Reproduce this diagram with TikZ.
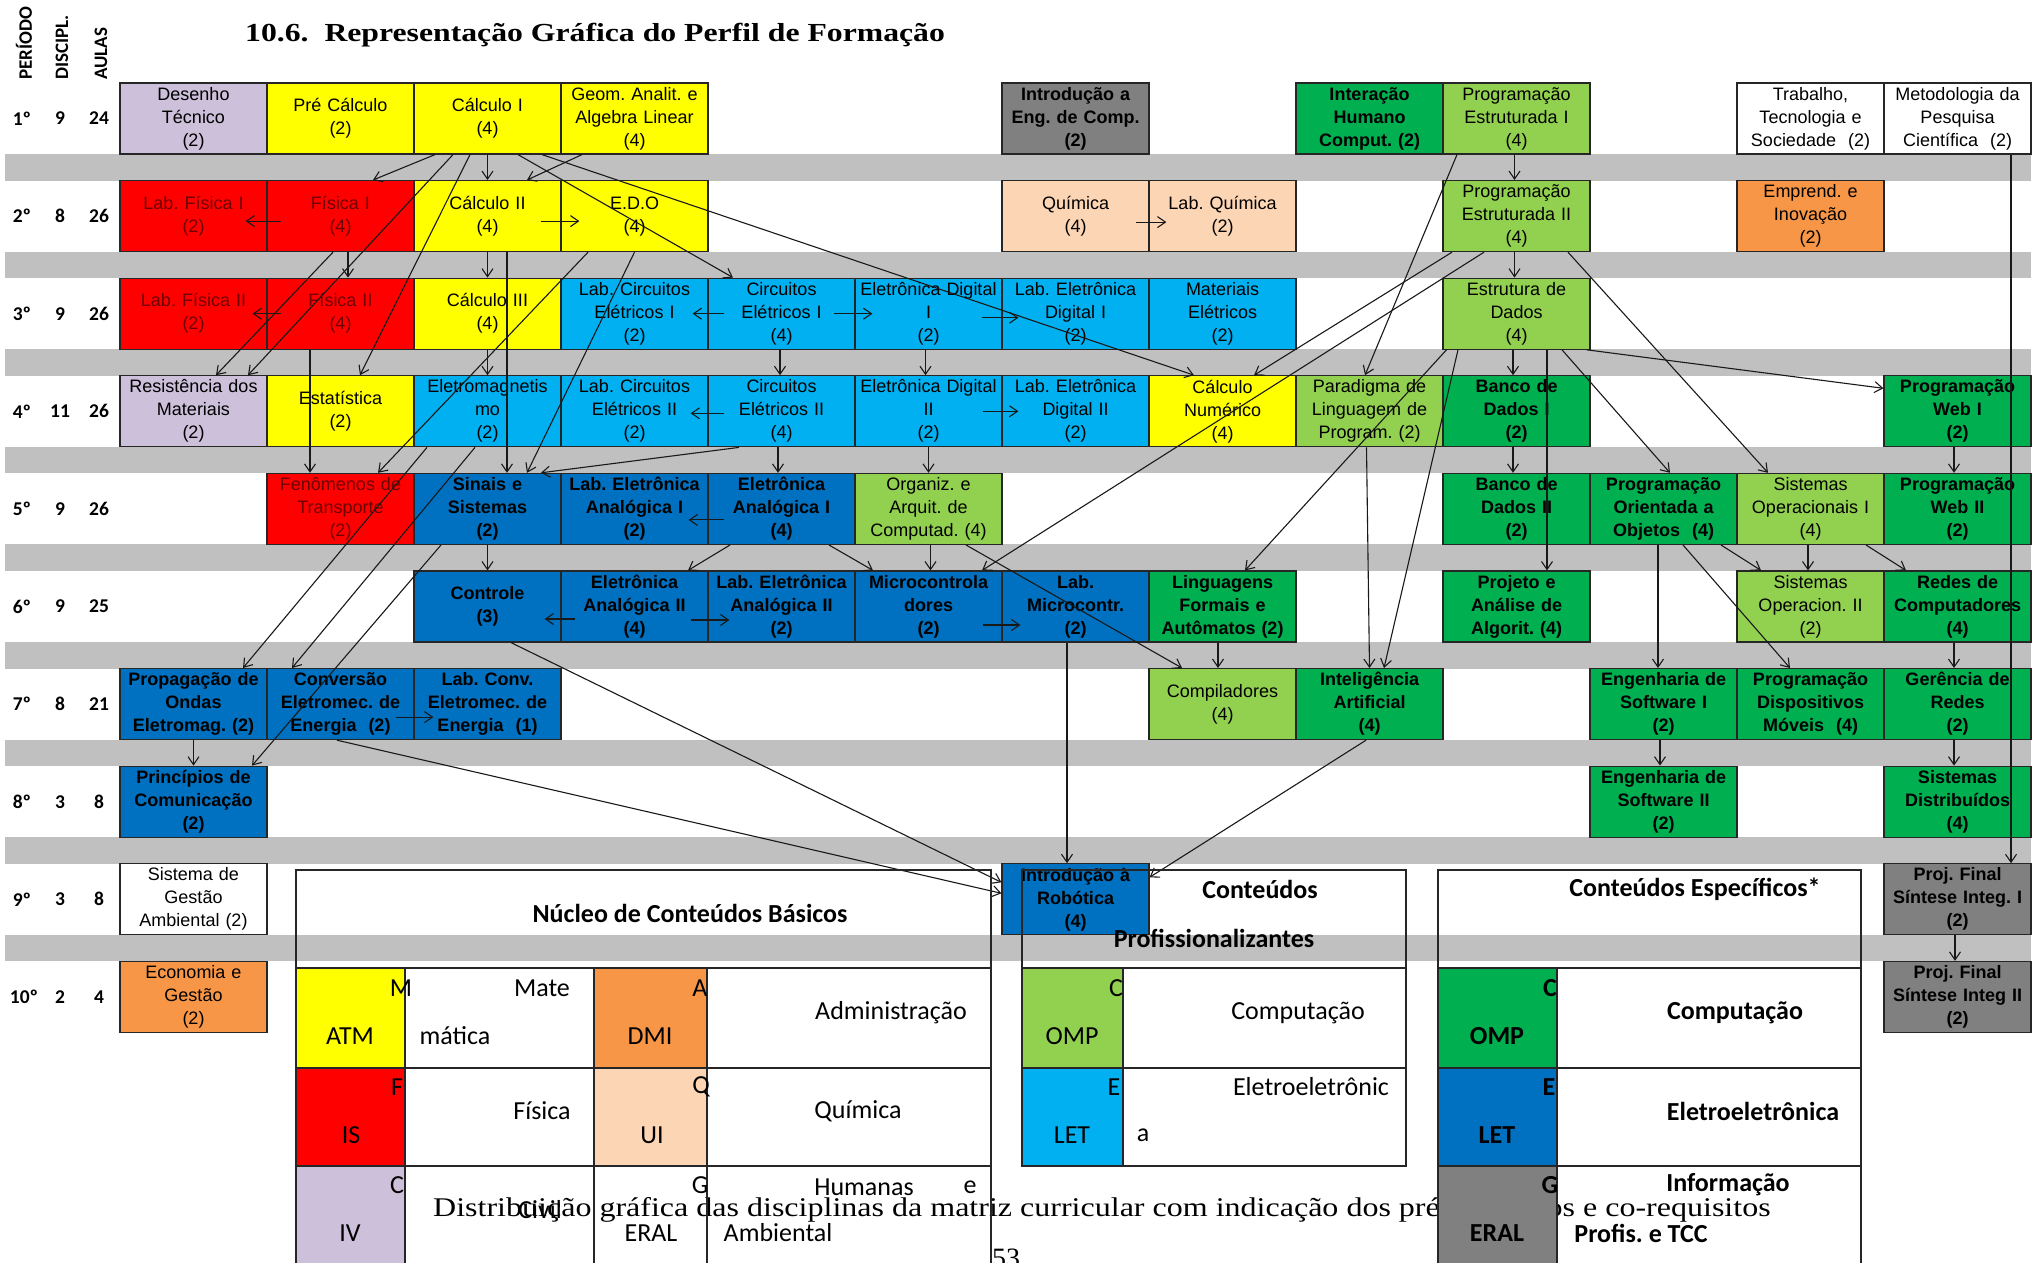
\documentclass[tikz,border=0pt]{standalone}
\usepackage{fontspec}
\setmainfont{Liberation Serif}
\newfontfamily\boxfont{Liberation Sans}
\newfontfamily\legfont{Carlito}
\usetikzlibrary{arrows.meta,calc}
\frenchspacing
\definecolor{cLil}{HTML}{CCC0DA}
\definecolor{cYel}{HTML}{FFFF00}
\definecolor{cRed}{HTML}{FF0000}
\definecolor{cLbl}{HTML}{00B0F0}
\definecolor{cDbl}{HTML}{0070C0}
\definecolor{cGrn}{HTML}{00B050}
\definecolor{cLgr}{HTML}{92D050}
\definecolor{cPea}{HTML}{FCD5B4}
\definecolor{cOra}{HTML}{F79646}
\definecolor{cGry}{HTML}{808080}
\definecolor{cBand}{HTML}{C0C0C0}
\definecolor{cRtx}{HTML}{700000}
\tikzset{
  box/.style={draw=black!85, line width=1.2pt, minimum width=147pt, minimum height=71pt,
    inner sep=0pt, text width=146pt, align=center, font=\fontsize{18}{23}\selectfont\boxfont},
  bbox/.style={box, font=\fontsize{18}{23}\selectfont\boxfont\bfseries},
  rbox/.style={box, fill=cRed, text=cRtx},
  arr/.style={-{Straight Barb[length=8pt,width=11pt]}, line width=1.1pt, black!90},
  lab/.style={font=\fontsize{19.5}{22}\selectfont\legfont\bfseries, inner sep=0pt},
  hdr/.style={font=\fontsize{19}{22}\selectfont\legfont\bfseries, inner sep=0pt, rotate=90, anchor=west},
  lg/.style={font=\fontsize{26}{30}\selectfont\legfont, inner sep=0pt},
  lgb/.style={font=\fontsize{26}{30}\selectfont\legfont\bfseries, inner sep=0pt},
  tbl/.style={line width=1.3pt, black!85},
}
\begin{document}
\begin{tikzpicture}[x=1pt,y=-1pt]
\useasboundingbox (0,0) rectangle (2040,1263);
\clip (0,0) rectangle (2040,1263);
\fill[white] (0,0) rectangle (2040,1263);
% gray bands
\foreach \i in {0,...,8} {\fill[cBand] (5,{154+97.6*\i}) rectangle (2031,{180.6+97.6*\i});}
% title
\node[anchor=west, inner sep=0pt, font=\bfseries\fontsize{26}{30}\selectfont] (title) at (245,35) {\scalebox{1.22}[1]{10.6.\ \ Representação Gráfica do Perfil de Formação}};
% header labels
\node[hdr] (hP) at (24,80) {PERÍODO};
\node[hdr] (hD) at (62,80) {DISCIPL.};
\node[hdr] (hA) at (101,80) {AULAS};
% row labels
\node[lab] (p1) at (22,118.5) {1º}; \node[lab] (d1) at (60,118.5) {9}; \node[lab] (a1) at (99,118.5) {24};
\node[lab] (p2) at (22,216.1) {2º}; \node[lab] (d2) at (60,216.1) {8}; \node[lab] (a2) at (99,216.1) {26};
\node[lab] (p3) at (22,313.7) {3º}; \node[lab] (d3) at (60,313.7) {9}; \node[lab] (a3) at (99,313.7) {26};
\node[lab] (p4) at (22,411.3) {4º}; \node[lab] (d4) at (60,411.3) {11}; \node[lab] (a4) at (99,411.3) {26};
\node[lab] (p5) at (22,508.9) {5º}; \node[lab] (d5) at (60,508.9) {9}; \node[lab] (a5) at (99,508.9) {26};
\node[lab] (p6) at (22,606.5) {6º}; \node[lab] (d6) at (60,606.5) {9}; \node[lab] (a6) at (99,606.5) {25};
\node[lab] (p7) at (22,704.1) {7º}; \node[lab] (d7) at (60,704.1) {8}; \node[lab] (a7) at (99,704.1) {21};
\node[lab] (p8) at (22,801.7) {8º}; \node[lab] (d8) at (60,801.7) {3}; \node[lab] (a8) at (99,801.7) {8};
\node[lab] (p9) at (22,899.3) {9º}; \node[lab] (d9) at (60,899.3) {3}; \node[lab] (a9) at (99,899.3) {8};
\node[lab] (p10) at (24,996.9) {10º}; \node[lab] (d10) at (60,996.9) {2}; \node[lab] (a10) at (99,996.9) {4};
% row 1
\node[box, fill=cLil] (dt) at (193.5,118.5) {Desenho\\Técnico\\(2)};
\node[box, fill=cYel] (prec) at (340.5,118.5) {Pré Cálculo\\(2)};
\node[box, fill=cYel] (calc1) at (487.5,118.5) {Cálculo I\\(4)};
\node[box, fill=cYel] (geom) at (634.5,118.5) {Geom. Analit. e\\Algebra Linear\\(4)};
\node[bbox, fill=cGry] (ieng) at (1075.5,118.5) {Introdução a\\Eng. de Comp.\\(2)};
\node[bbox, fill=cGrn] (ihc) at (1369.5,118.5) {Interação\\Humano\\Comput. (2)};
\node[box, fill=cLgr] (pe1) at (1516.5,118.5) {Programação\\Estruturada I\\(4)};
\node[box, fill=white] (tts) at (1810.5,118.5) {Trabalho,\\Tecnologia e\\Sociedade~~(2)};
\node[box, fill=white] (mpc) at (1957.5,118.5) {Metodologia da\\Pesquisa\\Científica~~(2)};
% row 2
\node[rbox] (lf1) at (193.5,216.1) {Lab. Física I\\(2)};
\node[rbox] (f1) at (340.5,216.1) {Física I\\(4)};
\node[box, fill=cYel] (calc2) at (487.5,216.1) {Cálculo II\\(4)};
\node[box, fill=cYel] (edo) at (634.5,216.1) {E.D.O\\(4)};
\node[box, fill=cPea] (qui) at (1075.5,216.1) {Química\\(4)};
\node[box, fill=cPea] (lqui) at (1222.5,216.1) {Lab. Química\\(2)};
\node[box, fill=cLgr] (pe2) at (1516.5,216.1) {Programação\\Estruturada II\\(4)};
\node[box, fill=cOra] (emp) at (1810.5,216.1) {Emprend. e\\Inovação\\(2)};
% row 3
\node[rbox] (lf2) at (193.5,313.7) {Lab. Física II\\(2)};
\node[rbox] (f2) at (340.5,313.7) {Física II\\(4)};
\node[box, fill=cYel] (calc3) at (487.5,313.7) {Cálculo III\\(4)};
\node[box, fill=cLbl] (lce1) at (634.5,313.7) {Lab. Circuitos\\Elétricos I\\(2)};
\node[box, fill=cLbl] (ce1) at (781.5,313.7) {Circuitos\\Elétricos I\\(4)};
\node[box, fill=cLbl] (ed1) at (928.5,313.7) {Eletrônica Digital\\I\\(2)};
\node[box, fill=cLbl] (led1) at (1075.5,313.7) {Lab. Eletrônica\\Digital I\\(2)};
\node[box, fill=cLbl] (mat) at (1222.5,313.7) {Materiais\\Elétricos\\(2)};
\node[box, fill=cLgr] (ed) at (1516.5,313.7) {Estrutura de\\Dados\\(4)};
% row 4
\node[box, fill=cLil] (rm) at (193.5,411.3) {Resistência dos\\Materiais\\(2)};
\node[box, fill=cYel] (est) at (340.5,411.3) {Estatística\\(2)};
\node[box, fill=cLbl] (emag) at (487.5,411.3) {Eletromagnetis\\mo\\(2)};
\node[box, fill=cLbl] (lce2) at (634.5,411.3) {Lab. Circuitos\\Elétricos II\\(2)};
\node[box, fill=cLbl] (ce2) at (781.5,411.3) {Circuitos\\Elétricos II\\(4)};
\node[box, fill=cLbl] (ed2) at (928.5,411.3) {Eletrônica Digital\\II\\(2)};
\node[box, fill=cLbl] (led2) at (1075.5,411.3) {Lab. Eletrônica\\Digital II\\(2)};
\node[box, fill=cYel] (cn) at (1222.5,411.3) {Cálculo\\Numérico\\(4)};
\node[box, fill=cLgr] (plp) at (1369.5,411.3) {Paradigma de\\Linguagem de\\Program. (2)};
\node[bbox, fill=cGrn] (bd1) at (1516.5,411.3) {Banco de\\Dados I\\(2)};
\node[bbox, fill=cGrn] (web1) at (1957.5,411.3) {Programação\\Web I\\(2)};
% row 5
\node[rbox] (ft) at (340.5,508.9) {Fenômenos de\\Transporte\\(2)};
\node[bbox, fill=cDbl] (ss) at (487.5,508.9) {Sinais e\\Sistemas\\(2)};
\node[bbox, fill=cDbl] (lea1) at (634.5,508.9) {Lab. Eletrônica\\Analógica I\\(2)};
\node[bbox, fill=cDbl] (ea1) at (781.5,508.9) {Eletrônica\\Analógica I\\(4)};
\node[box, fill=cLgr] (oac) at (928.5,508.9) {Organiz. e\\Arquit. de\\Computad. (4)};
\node[bbox, fill=cGrn] (bd2) at (1516.5,508.9) {Banco de\\Dados II\\(2)};
\node[bbox, fill=cGrn] (poo) at (1663.5,508.9) {Programação\\Orientada a\\Objetos~~(4)};
\node[box, fill=cLgr] (so1) at (1810.5,508.9) {Sistemas\\Operacionais I\\(4)};
\node[bbox, fill=cGrn] (web2) at (1957.5,508.9) {Programação\\Web II\\(2)};
% row 6
\node[bbox, fill=cDbl] (ctrl) at (487.5,606.5) {Controle\\(3)};
\node[bbox, fill=cDbl] (ea2) at (634.5,606.5) {Eletrônica\\Analógica II\\(4)};
\node[bbox, fill=cDbl] (lea2) at (781.5,606.5) {Lab. Eletrônica\\Analógica II\\(2)};
\node[bbox, fill=cDbl] (mic) at (928.5,606.5) {Microcontrola\\dores\\(2)};
\node[bbox, fill=cDbl] (lmic) at (1075.5,606.5) {Lab.\\Microcontr.\\(2)};
\node[bbox, fill=cGrn] (lfa) at (1222.5,606.5) {Linguagens\\Formais e\\Autômatos (2)};
\node[bbox, fill=cGrn] (paa) at (1516.5,606.5) {Projeto e\\Análise de\\Algorit. (4)};
\node[box, fill=cLgr] (so2) at (1810.5,606.5) {Sistemas\\Operacion. II\\(2)};
\node[bbox, fill=cGrn] (rc) at (1957.5,606.5) {Redes de\\Computadores\\(4)};
% row 7
\node[bbox, fill=cDbl] (pro) at (193.5,704.1) {Propagação de\\Ondas\\Eletromag. (2)};
\node[bbox, fill=cDbl] (cee) at (340.5,704.1) {Conversão\\Eletromec. de\\Energia~~(2)};
\node[bbox, fill=cDbl] (lcee) at (487.5,704.1) {Lab. Conv.\\Eletromec. de\\Energia~~(1)};
\node[box, fill=cLgr] (comp) at (1222.5,704.1) {Compiladores\\(4)};
\node[bbox, fill=cGrn] (ia) at (1369.5,704.1) {Inteligência\\Artificial\\(4)};
\node[bbox, fill=cGrn] (es1) at (1663.5,704.1) {Engenharia de\\Software I\\(2)};
\node[bbox, fill=cGrn] (pdm) at (1810.5,704.1) {Programação\\Dispositivos\\Móveis~~(4)};
\node[bbox, fill=cGrn] (gr) at (1957.5,704.1) {Gerência de\\Redes\\(2)};
% row 8
\node[bbox, fill=cDbl] (pc) at (193.5,801.7) {Princípios de\\Comunicação\\(2)};
\node[bbox, fill=cGrn] (es2) at (1663.5,801.7) {Engenharia de\\Software II\\(2)};
\node[bbox, fill=cGrn] (sd) at (1957.5,801.7) {Sistemas\\Distribuídos\\(4)};
% row 9
\node[box, fill=white] (sga) at (193.5,899.3) {Sistema de\\Gestão\\Ambiental (2)};
\node[bbox, fill=cDbl] (rob) at (1075.5,899.3) {Introdução à\\Robótica\\(4)};
\node[bbox, fill=cGry] (pf1) at (1957.5,899.3) {Proj. Final\\Síntese Integ. I\\(2)};
% row 10
\node[box, fill=cOra] (eg) at (193.5,996.9) {Economia e\\Gestão\\(2)};
\node[bbox, fill=cGry] (pf2) at (1957.5,996.9) {Proj. Final\\Síntese Integ II\\(2)};

% ---------- connectors ----------
% from row 1
\draw[arr] ([xshift=-52.5pt]calc1.south) -- ([xshift=32.5pt]f1.north);
\draw[arr] (calc1.south) -- (calc2.north);
\draw[arr] ([xshift=-52.5pt]geom.south) -- ([xshift=39.5pt]calc2.north);
\draw[arr] ([xshift=30.5pt]calc1.south) -- ([xshift=-48.5pt]ce1.north);
\draw[arr] ([xshift=54.5pt]calc1.south) -- ([xshift=-28.5pt]cn.north);
\draw[arr] ([xshift=-34.5pt]calc1.south) -- ([xshift=54.5pt]rm.north);
\draw[arr] ([xshift=-17.5pt]calc1.south) -- ([xshift=19.5pt]est.north);
\draw[arr] ([xshift=-2pt]pe1.south) -- ([xshift=-2pt]pe2.north);
\draw[arr] ([xshift=-59.5pt]pe1.south) -- ([xshift=-4.5pt]plp.north);
\draw[arr] ([xshift=53.5pt]mpc.south) -- ([xshift=53.5pt]pf1.north);
% from row 2
\draw[arr] ([xshift=15pt,yshift=-5pt]f1.west) -- ([xshift=-22pt,yshift=-5pt]lf1.east);
\draw[arr] ([xshift=-21pt,yshift=-5pt]calc2.east) -- ([xshift=19pt,yshift=-5pt]edo.west);
\draw[arr] ([xshift=-14pt,yshift=-6pt]qui.east) -- ([xshift=18pt,yshift=-6pt]lqui.west);
\draw[arr] ([xshift=-7.5pt]f1.south) -- ([xshift=22.5pt]rm.north);
\draw[arr] ([xshift=7.5pt]f1.south) -- ([xshift=7.5pt]f2.north);
\draw[arr] (calc2.south) -- (calc3.north);
\draw[arr] ([xshift=19.5pt]calc2.south) -- ([xshift=19.5pt]ss.north);
\draw[arr] ([xshift=-46.5pt]edo.south) -- ([xshift=37.5pt]ft.north);
\draw[arr] (edo.south) -- ([xshift=39.5pt]ss.north);
\draw[arr] ([xshift=-32.5pt]pe2.south) -- ([xshift=53.5pt]mic.north);
\draw[arr] ([xshift=-64.5pt]pe2.south) -- ([xshift=31.5pt]cn.north);
\draw[arr] ([xshift=-2pt]pe2.south) -- ([xshift=-2pt]ed.north);
\draw[arr] ([xshift=51.5pt]pe2.south) -- ([xshift=-42.5pt]so1.north);
% from row 3
\draw[arr] ([xshift=15pt]f2.west) -- ([xshift=-15pt]lf2.east);
\draw[arr] ([xshift=17pt]ce1.west) -- ([xshift=-16pt]lce1.east);
\draw[arr] ([xshift=-22pt]ce1.east) -- ([xshift=18pt]ed1.west);
\draw[arr] ([xshift=-21pt,yshift=-4pt]ed1.east) -- ([xshift=17pt,yshift=-4pt]led1.west);
\draw[arr] ([xshift=-30.5pt]f2.south) -- ([xshift=-30.5pt]ft.north);
\draw[arr] (calc3.south) -- (emag.north);
\draw[arr] ([xshift=-1.5pt]ce1.south) -- ([xshift=-1.5pt]ce2.north);
\draw[arr] ([xshift=-3pt]ed1.south) -- ([xshift=-3pt]ed2.north);
\draw[arr] ([xshift=-3.5pt]ed.south) -- ([xshift=-3.5pt]bd1.north);
\draw[arr] ([xshift=30.5pt]ed.south) -- ([xshift=30.5pt]paa.north);
\draw[arr] ([xshift=-70pt]ed.south) -- ([xshift=22.5pt]lfa.north);
\draw[arr] ([xshift=-58.5pt]ed.south) -- ([xshift=14.5pt]ia.north);
\draw[arr] ([xshift=45.5pt]ed.south) -- ([xshift=6.5pt]poo.north);
\draw[arr] ([xshift=-4pt]ed.south east) -- ([yshift=23pt]web1.west);
% from row 4
\draw[arr] ([xshift=17pt,yshift=-2pt]ce2.west) -- ([xshift=-18pt,yshift=-2pt]lce2.east);
\draw[arr] ([xshift=-20pt]ed2.east) -- ([xshift=17pt]led2.west);
\draw[arr] ([xshift=-42.5pt]ce2.south) -- ([xshift=53.5pt]ss.north);
\draw[arr] ([xshift=-3.5pt]ce2.south) -- ([xshift=-3.5pt]ea1.north);
\draw[arr] (ed2.south) -- (oac.north);
\draw[arr] ([xshift=-60.5pt]emag.south) -- ([xshift=49.5pt]pro.north);
\draw[arr] ([xshift=-12.5pt]emag.south) -- ([xshift=-48.5pt]cee.north);
\draw[arr] ([xshift=-3pt]plp.south) -- (ia.north);
\draw[arr] ([xshift=-3.5pt]bd1.south) -- ([xshift=-3.5pt]bd2.north);
\draw[arr] ([xshift=-3.5pt]web1.south) -- ([xshift=-3.5pt]web2.north);
% from row 5
\draw[arr] ([xshift=17pt,yshift=-11pt]ea1.west) -- ([xshift=-20pt,yshift=-11pt]lea1.east);
\draw[arr] ([xshift=-46.5pt]ss.south) -- ([xshift=58.5pt]pc.north);
\draw[arr] (ss.south) -- (ctrl.north);
\draw[arr] ([xshift=-51.5pt]ea1.south) -- ([xshift=53.5pt]ea2.north);
\draw[arr] ([xshift=47.5pt]ea1.south) -- ([xshift=-55.5pt]mic.north);
\draw[arr] ([xshift=2pt]oac.south) -- ([xshift=2pt]mic.north);
\draw[arr] ([xshift=37.5pt]oac.south) -- ([xshift=-40.5pt]comp.north);
\draw[arr] ([xshift=-5.5pt]poo.south) -- ([xshift=-5.5pt]es1.north);
\draw[arr] ([xshift=57.5pt]poo.south) -- ([xshift=-49.5pt]so2.north);
\draw[arr] ([xshift=19.5pt]poo.south) -- ([xshift=-20.5pt]pdm.north);
\draw[arr] ([xshift=-2.5pt]so1.south) -- ([xshift=-2.5pt]so2.north);
\draw[arr] ([xshift=55.5pt]so1.south) -- ([xshift=-51.5pt]rc.north);
% from row 6
\draw[arr] ([xshift=15pt,yshift=-12.5pt]ea2.west) -- ([xshift=-17pt,yshift=-12.5pt]ctrl.east);
\draw[arr] ([xshift=-18pt,yshift=-13.5pt]ea2.east) -- ([xshift=22pt,yshift=-13.5pt]lea2.west);
\draw[arr] ([xshift=-20pt,yshift=-18.5pt]mic.east) -- ([xshift=19pt,yshift=-18.5pt]lmic.west);
\draw[arr] ([xshift=-4.5pt]lfa.south) -- ([xshift=-4.5pt]comp.north);
\draw[arr] ([xshift=-8.5pt]lmic.south) -- ([xshift=-8.5pt]rob.north);
\draw[arr] ([xshift=23.5pt]ctrl.south) -- ([yshift=17pt]rob.west);
\draw[arr] ([xshift=-3.5pt]rc.south) -- ([xshift=-3.5pt]gr.north);
% from row 7
\draw[arr] ([xshift=-19pt,yshift=-13pt]cee.east) -- ([xshift=20pt,yshift=-13pt]lcee.west);
\draw[arr] ([xshift=-3.5pt]ia.south) -- ([yshift=22pt]rob.east);
\draw[arr] ([xshift=-3.5pt]cee.south) -- ([yshift=6pt]rob.west);
\draw[arr] (pro.south) -- (pc.north);
\draw[arr] ([xshift=-3.5pt]es1.south) -- ([xshift=-3.5pt]es2.north);
\draw[arr] ([xshift=-3.5pt]gr.south) -- ([xshift=-3.5pt]sd.north);
% from row 9
\draw[arr] ([xshift=-2.5pt]pf1.south) -- ([xshift=-2.5pt]pf2.north);

% ---------- caption (partly hidden) ----------
\node[anchor=base west, inner sep=0pt, font=\fontsize{27}{30}\selectfont] (cap) at (433,1216) {\scalebox{1.186}[1]{Distribuição gráfica das disciplinas da matriz curricular com indicação dos pré-requisitos e co-requisitos}};
\node[anchor=north, inner sep=0pt, font=\fontsize{28}{30}\selectfont] (pg) at (1006,1249) {53};

% ---------- legend: Núcleo ----------
\fill[cYel] (296,968) rectangle (405,1068);
\fill[cRed] (296,1068) rectangle (405,1166);
\fill[cLil] (296,1166) rectangle (405,1275);
\fill[cOra] (594,968) rectangle (707,1068);
\fill[cPea] (594,1068) rectangle (707,1166);
\draw[tbl] (296,1275) -- (296,870) -- (991,870) -- (991,1275);
\draw[tbl] (296,968) -- (991,968) (296,1068) -- (991,1068) (296,1166) -- (991,1166);
\draw[tbl] (405,968) -- (405,1275) (594,968) -- (594,1275) (707,968) -- (707,1275);
% ---------- legend: Profissionalizantes ----------
\fill[cLgr] (1022,968) rectangle (1123,1068);
\fill[cLbl] (1022,1068) rectangle (1123,1166);
\draw[tbl] (1022,870) rectangle (1406,1166);
\draw[tbl] (1022,968) -- (1406,968) (1022,1068) -- (1406,1068) (1123,968) -- (1123,1166);
% ---------- legend: Específicos ----------
\fill[cGrn] (1438,968) rectangle (1557,1068);
\fill[cDbl] (1438,1068) rectangle (1557,1166);
\fill[cGry] (1438,1166) rectangle (1557,1275);
\draw[tbl] (1438,1275) -- (1438,870) -- (1861,870) -- (1861,1275);
\draw[tbl] (1438,968) -- (1861,968) (1438,1068) -- (1861,1068) (1438,1166) -- (1861,1166) (1557,968) -- (1557,1275);

% legend texts
\node[lgb] (nh) at (690,913) {Núcleo de Conteúdos Básicos};
\node[lg] (n1a) at (401,988) {M};
\node[lg] (n1b) at (350,1036) {ATM};
\node[lg] (n1c) at (542,988) {Mate};
\node[lg] (n1d) at (455,1036) {mática};
\node[lg] (n1e) at (700,988) {A};
\node[lg] (n1f) at (650,1036) {DMI};
\node[lg] (n1g) at (891,1013) {Administração};
\node[lg] (n2a) at (397,1087) {F};
\node[lg] (n2b) at (351,1135) {IS};
\node[lg] (n2c) at (542,1111) {Física};
\node[lg] (n2d) at (701,1087) {Q};
\node[lg] (n2e) at (652,1135) {UI};
\node[lg] (n2f) at (858,1111) {Química};
\node[lg] (n3a) at (397,1185) {C};
\node[lg] (n3b) at (350,1233) {IV};
\node[lg] (n3c) at (540,1210) {Civil};
\node[lg] (n3d) at (700,1185) {G};
\node[lg] (n3e) at (651,1233) {ERAL};
\node[lg] (n3f) at (864,1187) {Humanas};
\node[lg] (n3g) at (970,1187) {e};
\node[lg] (n3h) at (778,1233) {Ambiental};
\node[lgb] (ph1) at (1260,889) {Conteúdos};
\node[lgb] (ph2) at (1214,938) {Profissionalizantes};
\node[lg] (p1a) at (1116,988) {C};
\node[lg] (p1b) at (1072,1036) {OMP};
\node[lg] (p1c) at (1298,1013) {Computação};
\node[lg] (p2a) at (1114,1087) {E};
\node[lg] (p2b) at (1072,1135) {LET};
\node[lg] (p2c) at (1311,1087) {Eletroeletrônic};
\node[lg] (p2d) at (1143,1135) {a};
\node[lgb] (eh) at (1695,889) {Conteúdos Específicos*};
\node[lgb] (e1a) at (1550,988) {C};
\node[lgb] (e1b) at (1497,1036) {OMP};
\node[lgb] (e1c) at (1735,1013) {Computação};
\node[lgb] (e2a) at (1549,1087) {E};
\node[lgb] (e2b) at (1497,1135) {LET};
\node[lgb] (e2c) at (1753,1111) {Eletroeletrônica};
\node[lgb] (e3a) at (1550,1185) {G};
\node[lgb] (e3b) at (1497,1233) {ERAL};
\node[lgb] (e3c) at (1728,1185) {Informação};
\node[lgb] (e3d) at (1641,1233) {Profis. e TCC};
\end{tikzpicture}
\end{document}
